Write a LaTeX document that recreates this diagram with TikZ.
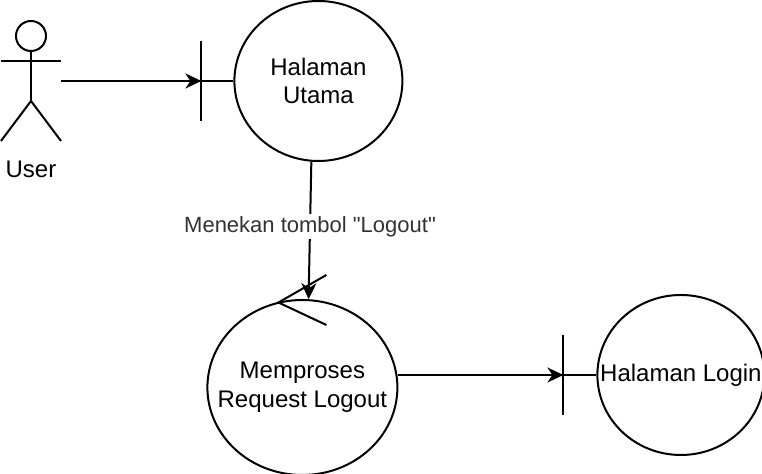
\documentclass[tikz,border=0pt]{standalone}
\usepackage{fontspec}
\setmainfont{Liberation Sans}
\usetikzlibrary{shapes.geometric,positioning,arrows.meta}
\tikzset{
	teks/.style={font=\fontsize{12}{14.4}\selectfont, align=center, inner sep=0pt},
	aktor/.style={rectangle, minimum width=30pt, minimum height=60pt, inner sep=0pt},
	batas/.style={ellipse, draw, line width=1pt, minimum width=84pt, 
		minimum height=80pt, inner sep=0pt},
	kontrol/.style={ellipse, draw, line width=1pt, minimum width=95pt, 
		minimum height=87.5pt, inner sep=0pt},
	garis/.style={line width=1pt},
	panah/.style={line width=1pt, -{Stealth[length=8pt, width=7.5pt, inset=2.5pt]}},
	keterangan/.style={font=\fontsize{11}{13.2}\selectfont, text=black!80, 
		fill=white, inner sep=1pt}
}

\begin{document}
\begin{tikzpicture}[x=0.5pt, y=-0.5pt]
	\useasboundingbox (0,0) rectangle (762,474);
	
	\node[aktor, label={[teks, label distance=9.5pt]below:User}] (user) at (31,81) {};
	\draw[garis] ([shift={(0,-45)}]user.center) circle[radius=7.5pt];
	\draw[garis] ([shift={(0,-30)}]user.center) -- ([shift={(0,20)}]user.center);
	\draw[garis] ([shift={(-30,-20)}]user.center) -- ([shift={(30,-20)}]user.center);
	\draw[garis] ([shift={(-30,60)}]user.center) -- ([shift={(0,20)}]user.center) -- ([shift={(30,60)}]user.center);
	
	\node[batas, right=86pt of user, label={[teks]center:Halaman\\Utama}] (utama) {};
	\coordinate (utamabar) at ([xshift=-16pt]utama.west);
	\draw[garis] ([yshift=20pt]utamabar) -- ([yshift=-20pt]utamabar);
	\draw[garis] (utamabar) -- (utama.west);
	
	\node[kontrol, below=68.5pt of utama, xshift=-8pt, 
		label={[teks]center:Memproses\\Request Logout}] (proses) {};
	\draw[garis] ([shift={(24,-112.5)}]proses.center) -- ([shift={(-24,-85)}]proses.center) 
		-- ([shift={(24,-62.5)}]proses.center);
	
	\node[batas, minimum width=83.5pt, right=99pt of proses, yshift=6.25pt, 
		label={[teks]center:Halaman Login}] (login) {};
	\coordinate (loginbar) at ([xshift=-16.5pt]login.west);
	\draw[garis] ([yshift=20pt]loginbar) -- ([yshift=-20pt]loginbar);
	\draw[garis] (loginbar) -- (login.west);
	
	\draw[panah] (user.east) -- (utamabar);
	\draw[panah] (utama.265) -- node[keterangan, pos=0.47] {Menekan tombol \textquotedbl Logout\textquotedbl} (proses.86);
	\draw[panah] (proses.east |- loginbar) -- (loginbar);
\end{tikzpicture}
\end{document}
